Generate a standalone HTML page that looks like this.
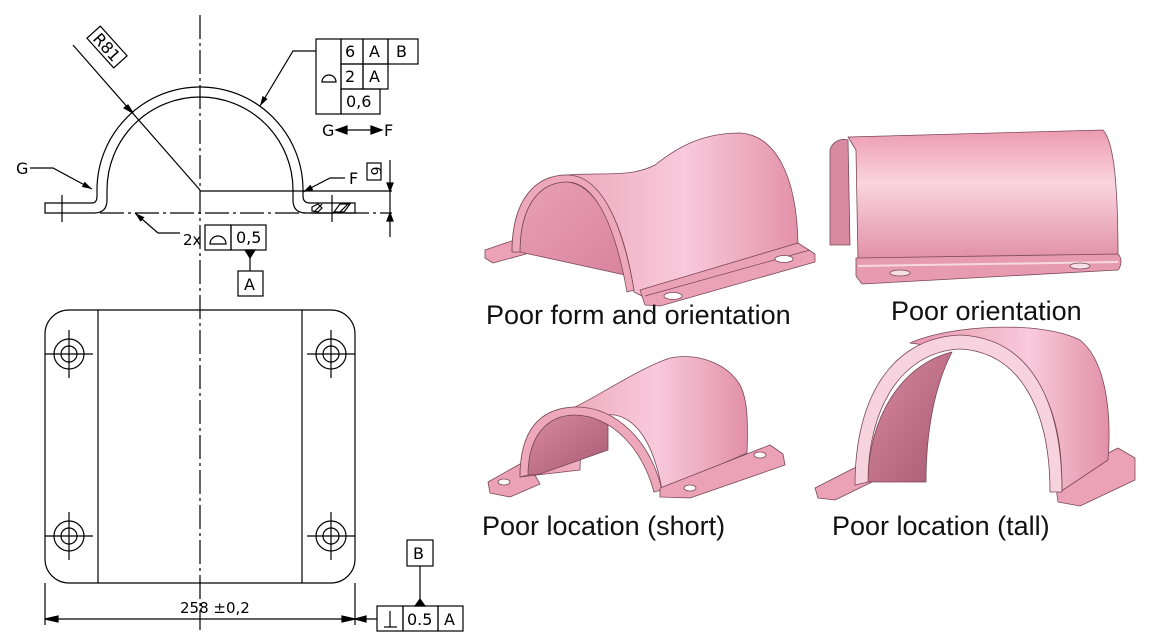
<!DOCTYPE html>
<html><head><meta charset="utf-8"><style>
html,body{margin:0;padding:0;background:#fff;}
svg{display:block;}
text{font-family:"DejaVu Sans","Liberation Sans",sans-serif;}
.lbl{font-family:"Liberation Sans",sans-serif;font-size:27px;fill:#111;}
</style></head><body>
<svg width="1169" height="642" viewBox="0 0 1169 642" xmlns="http://www.w3.org/2000/svg">
<defs>
<marker id="ar" markerWidth="10" markerHeight="6" refX="10" refY="3" orient="auto" markerUnits="userSpaceOnUse"><path d="M0,0 L10,3 L0,6z" fill="#000"/></marker>
<linearGradient id="pk" x1="0" y1="0" x2="1" y2="0"><stop offset="0" stop-color="#e898ae"/><stop offset="0.6" stop-color="#f8cadb"/><stop offset="1" stop-color="#e290a8"/></linearGradient>
<linearGradient id="pkv" x1="0" y1="0" x2="0" y2="1"><stop offset="0" stop-color="#ec9ab0"/><stop offset="0.4" stop-color="#fad4e0"/><stop offset="1" stop-color="#e08ea6"/></linearGradient>
<linearGradient id="dk" x1="0" y1="0" x2="1" y2="1"><stop offset="0" stop-color="#d88aa2"/><stop offset="1" stop-color="#a85a74"/></linearGradient>
<linearGradient id="in1" x1="0" y1="0" x2="1" y2="1"><stop offset="0" stop-color="#e8a0b4"/><stop offset="1" stop-color="#d8849e"/></linearGradient>
</defs>
<g fill="none" stroke="#000" stroke-width="1.2">
<line x1="200" y1="15" x2="200" y2="630" stroke-dasharray="24,4,3,4"/>
<path d="M45,203 L92,203 Q97,203 97,196 L97,190 A103,103 0 0 1 303,190 L303,196 Q303,203 310,203 L355,203 L355,213 L306,213 Q293,213 293,200 L293,190 A93,93 0 0 0 107,190 L107,200 Q107,213 94,213 L45,213 Z"/>
<line x1="62" y1="195" x2="62" y2="222"/>
<line x1="332" y1="195" x2="332" y2="222"/>
<line x1="200" y1="191" x2="392" y2="191"/>
<line x1="100" y1="213" x2="392" y2="213" stroke-dasharray="24,4,3,4"/>
<path d="M312,207 L318,204 L322,208 L318,212 L312,211Z M340,204 L350,204 L344,212 L334,212Z"/>
<line x1="314" y1="212" x2="322" y2="204"/><line x1="340" y1="212" x2="348" y2="204"/>
<line x1="390" y1="160" x2="390" y2="237"/>
<path d="M387,183 L390,191 L393,183Z M387,221 L390,213 L393,221Z" fill="#000"/>
<rect x="367" y="163" width="14" height="17"/>
<line x1="73" y1="45" x2="200" y2="190"/>
<path d="M124,108 L133,113 L128,105Z" fill="#000"/>
<g transform="translate(107,47) rotate(48)"><rect x="-20" y="-9" width="40" height="18"/><text x="0" y="6" font-size="16" text-anchor="middle" fill="#000" stroke="none">R81</text></g>
<rect x="316" y="39" width="25" height="75"/>
<rect x="341" y="39" width="22" height="25"/><rect x="363" y="39" width="25" height="25"/><rect x="388" y="39" width="30" height="25"/>
<rect x="341" y="64" width="22" height="25"/><rect x="363" y="64" width="25" height="25"/>
<rect x="341" y="89" width="39" height="25"/>
<path d="M322,82 A7,7 0 0 1 336,82 Z"/>
<polyline points="316,51 293,51 260,106" marker-end="url(#ar)"/>
<line x1="337" y1="130" x2="381" y2="130"/>
<path d="M336,130 L347,126 L347,134Z M382,130 L371,126 L371,134Z" fill="#000"/>
<polyline points="30,168 53,168 92,189" marker-end="url(#ar)"/>
<polyline points="345,178 330,178 303,192" marker-end="url(#ar)"/>
<polyline points="180,233 158,233 135,213" marker-end="url(#ar)"/>
<rect x="205" y="225" width="26" height="25"/><rect x="231" y="225" width="35" height="25"/>
<path d="M210,244 A8,8 0 0 1 226,244 Z"/>
<line x1="250" y1="250" x2="250" y2="271"/>
<path d="M245,250 L255,250 L250,258Z" fill="#000"/>
<rect x="238" y="271" width="25" height="25"/>
<rect x="45" y="310" width="310" height="273" rx="24"/>
<line x1="98" y1="310" x2="98" y2="583"/><line x1="302" y1="310" x2="302" y2="583"/>
<g id="h"><circle cx="69" cy="354" r="15"/><circle cx="69" cy="354" r="8"/><line x1="45" y1="354" x2="93" y2="354"/><line x1="69" y1="330" x2="69" y2="378"/></g>
<use href="#h" x="262"/><use href="#h" y="182"/><use href="#h" x="262" y="182"/>
<line x1="45" y1="583" x2="45" y2="625"/><line x1="355" y1="583" x2="355" y2="625"/>
<line x1="45" y1="619" x2="377" y2="619"/>
<path d="M45,619 L58,616 L58,622Z M355,619 L342,616 L342,622Z M355,619 L366,616 L366,622Z" fill="#000"/>
<rect x="377" y="606" width="26" height="25"/><rect x="403" y="606" width="35" height="25"/><rect x="438" y="606" width="25" height="25"/>
<line x1="384" y1="627" x2="397" y2="627"/><line x1="390" y1="611" x2="390" y2="627"/>
<rect x="407" y="540" width="26" height="26"/>
<line x1="420" y1="566" x2="420" y2="606"/>
<path d="M415,606 L425,606 L420,599Z" fill="#000"/>
</g>
<g font-size="15" fill="#000">
<text x="345" y="57" font-size="16">6</text><text x="369" y="57" font-size="16">A</text><text x="396" y="57" font-size="16">B</text>
<text x="345" y="82" font-size="16">2</text><text x="369" y="82" font-size="16">A</text>
<text x="346" y="107" font-size="16">0,6</text>
<text x="322" y="136" font-size="16">G</text><text x="384" y="136" font-size="16">F</text>
<text x="16" y="174" font-size="16">G</text><text x="349" y="184" font-size="16">F</text>
<text x="183" y="245">2x</text><text x="236" y="243" font-size="16">0,5</text>
<text x="244" y="290" font-size="16">A</text>
<text x="413" y="559" font-size="16">B</text>
<text x="407" y="625" font-size="16">0.5</text><text x="444" y="625" font-size="16">A</text>
<text x="180" y="613" font-size="15">258 ±0,2</text>
<text transform="translate(376,171) rotate(90)" font-size="14" text-anchor="middle" y="5">6</text>
</g>
<g stroke="#7a4858" stroke-width="0.8" stroke-linejoin="round">
<path d="M485,250 L520,238 L526,254 L493,263 L485,258Z" fill="#eba2b6"/>
<path d="M512,252 C512,200 535,175 567,175 C600,172 630,178 655,165 C680,145 705,133 740,133 C775,135 797,175 798,245 L800,250 L650,300 L634,292 C625,230 605,185 575,180 L520,252Z" fill="url(#pk)"/>
<path d="M520,252 C520,205 540,182 567,182 C595,184 615,225 625,275 Z" fill="url(#in1)"/>
<path d="M512,252 C512,200 535,175 567,175 C600,175 622,220 634,290 L627,292 C615,225 595,182 567,182 C540,182 520,205 520,252Z" fill="#eea8bc"/>
<path d="M640,290 L798,243 L815,254 L815,262 L660,306 L645,305Z" fill="#eba2b6"/>
<line x1="645" y1="296" x2="810" y2="250"/>
<ellipse cx="673" cy="296" rx="9" ry="3.5" fill="#fff"/><ellipse cx="784" cy="259" rx="9" ry="3.5" fill="#fff"/>
<path d="M830,150 C832,142 840,138 848,140 L850,245 L830,245Z" fill="#d88aa0"/>
<path d="M848,137 L1103,130 C1112,140 1118,170 1118,258 L858,262 L856,150 Z" fill="url(#pkv)"/>
<path d="M856,258 L1118,254 C1122,258 1122,265 1118,270 L862,284 L856,276Z" fill="#e79bb1"/>
<line x1="858" y1="266" x2="1118" y2="262" stroke="#f6d8e2" stroke-width="2"/>
<ellipse cx="900" cy="273" rx="10" ry="3" fill="#f6dfe6"/><ellipse cx="1080" cy="266" rx="10" ry="3" fill="#f6dfe6"/>
<path d="M488,482 L520,464 L532,470 L540,484 L510,497 L490,493Z" fill="#eba2b6"/>
<path d="M520,477 C520,430 540,408 575,407 C600,395 640,368 670,358 C700,352 728,365 740,385 C748,400 748,425 747,453 L662,490 C655,450 640,420 615,415 C590,412 580,440 580,470Z" fill="url(#pk)"/>
<path d="M528,475 C528,435 548,415 575,415 C590,415 600,420 608,425 L608,450 L540,474Z" fill="url(#dk)"/>
<path d="M520,477 C520,430 540,408 575,407 C615,406 650,440 662,490 L654,492 C642,448 612,416 575,415 C548,415 528,435 528,475Z" fill="#eea8bc"/>
<path d="M660,488 L770,445 L783,454 L785,465 L690,498 L660,497Z" fill="#eba2b6"/>
<ellipse cx="690" cy="488" rx="6" ry="3" fill="#fff"/><ellipse cx="760" cy="455" rx="6" ry="3" fill="#fff"/><ellipse cx="504" cy="482" rx="6" ry="3" fill="#fff"/>
<path d="M815,488 L862,464 L872,470 L872,482 L835,500 L818,498Z" fill="#eba2b6"/>
<path d="M1055,480 L1118,448 L1135,458 L1135,480 L1080,506 L1058,502Z" fill="#eba2b6"/>
<path d="M910,343 C950,325 1040,320 1080,340 C1105,360 1112,410 1108,460 L1060,492 C1058,410 1030,352 960,350 Z" fill="url(#pk)"/>
<path d="M868,482 C868,410 900,352 960,349 C1020,352 1048,410 1050,490 Z" fill="#fff" stroke="none"/>
<path d="M868,482 C868,420 900,365 952,352 C935,385 926,430 926,482 Z" fill="url(#dk)"/>
<path d="M1050,490 C1050,440 1042,410 1030,390 L1040,386 C1060,420 1062,460 1062,490Z" fill="#b86a84"/>
<path d="M855,485 C855,400 890,338 960,335 C1030,338 1062,400 1062,492 L1050,492 C1050,410 1020,352 960,349 C900,352 868,410 868,482Z" fill="#f6d3df"/>
</g>
<text class="lbl" x="486" y="324">Poor form and orientation</text>
<text class="lbl" x="891" y="320">Poor orientation</text>
<text class="lbl" x="482" y="535">Poor location (short)</text>
<text class="lbl" x="832" y="535">Poor location (tall)</text>
</svg>
</body></html>
